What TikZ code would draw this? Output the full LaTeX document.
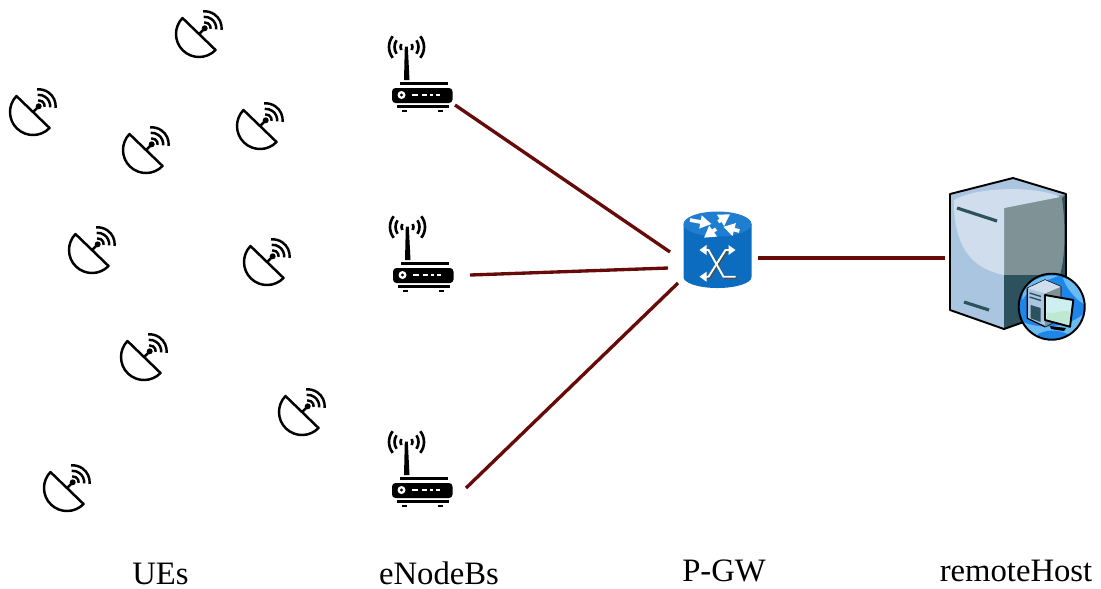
\documentclass[tikz,border=0pt]{standalone}
\usepackage{xcolor}
\usepackage{fontspec}
\setmainfont{Liberation Serif}
\usetikzlibrary{arrows.meta}

\definecolor{linkred}{HTML}{660A0A}
\definecolor{pgwblue}{HTML}{0C6CBF}
\definecolor{pgwtop}{HTML}{1F7ED0}
\definecolor{srvlight}{HTML}{CFDDED}
\definecolor{srvmid}{HTML}{A9C5DF}
\definecolor{srvgrey}{HTML}{7F9397}
\definecolor{srvdark}{HTML}{2D525E}
\definecolor{globeblue}{HTML}{1E86E8}
\definecolor{globepale}{HTML}{6CBAF2}
\definecolor{screenpale}{HTML}{CDEFF0}

\tikzset{
	% invisible boxes the icons sit in
	ue/.style={minimum width=.5cm, minimum height=.5cm, inner sep=0pt},
	enb/.style={minimum width=.66cm, minimum height=.78cm, inner sep=0pt},
	gw/.style={minimum width=.7cm, minimum height=.8cm, inner sep=0pt},
	host/.style={minimum width=1.2cm, minimum height=1.5cm, inner sep=0pt},
	tier/.style={font=\fontsize{9.3}{11}\selectfont, inner sep=0pt, anchor=base},
	link/.style={draw=linkred, line width=.95pt},
	pgwarrow/.style={white, line width=1.05pt, -{Triangle[length=3.2pt,width=3.6pt]}},
	dish/.pic={
		\draw[line width=.7pt, line join=round] (136:.23) arc[start angle=136, end angle=316, radius=.23] -- cycle;
		\draw[line width=.7pt] (0,0) -- (.057,.057);
		\fill (.057,.057) circle (.03);
		\foreach \r in {.06,.115,.17}
			\draw[line width=.7pt, shift={(.057,.057)}] (-5:\r) arc[start angle=-5, end angle=95, radius=\r];
	},
	router/.pic={
		\fill[rounded corners=1pt] (-.3,-.13) rectangle (.305,-.28);
		\fill (-.22,-.07) rectangle (.26,-.095);
		\fill (-.25,-.30) rectangle (.27,-.325);
		\fill (-.2,-.35) rectangle (-.15,-.37);
		\fill (.16,-.35) rectangle (.21,-.37);
		\fill (-.172,.285) -- (-.142,.285) -- (-.125,-.05) -- (-.18,-.05) -- cycle;
		\foreach \r/\a in {.06/30,.12/34,.175/38} {
			\draw[line width=.75pt] (-.155,.28) ++(180-\a:\r) arc[start angle=180-\a, end angle=180+\a, radius=\r];
			\draw[line width=.75pt] (-.155,.28) ++(-\a:\r) arc[start angle=-\a, end angle=\a, radius=\r];
		}
		\fill[white] (-.205,-.2) circle (.04);
		\fill (-.205,-.2) circle (.017);
		\foreach \xa/\xb in {-.10/-.04,-.003/.047,.08/.113,.14/.18}
			\fill[white] (\xa,-.19) rectangle (\xb,-.21);
	},
	pgw/.pic={
		\fill[pgwblue] (-.34,.28) -- (-.34,-.25) arc[start angle=180, end angle=360, x radius=.34, y radius=.11] -- (.34,.28) -- cycle;
		\fill[pgwtop] (0,.28) ellipse (.34 and .125);
		\draw[pgwarrow] (-.275,.32) -- (-.06,.28);
		\draw[pgwarrow] (.008,.303) -- (.125,.377);
		\draw[pgwarrow] (.218,.21) -- (.058,.253);
		\draw[pgwarrow] (-.015,.23) -- (-.135,.143);
		% crossing arrows with their dark edge
		\draw[black!70, line width=.55pt, shift={(.012,-.012)}] (-.12,.02) -- (-.09,.02) -- (.06,-.247) -- (.18,-.247);
		\draw[black!70, line width=.55pt, shift={(.012,-.012)}] (.12,.02) -- (.08,.02) -- (-.09,-.247) -- (-.12,-.247);
		\draw[white, line width=.55pt] (-.12,.02) -- (-.09,.02) -- (.06,-.247) -- (.18,-.247);
		\draw[white, line width=.55pt] (.12,.02) -- (.08,.02) -- (-.09,-.247) -- (-.12,-.247);
		\foreach \x/\y/\d in {-.18/.02/1,.18/.02/-1,-.18/-.247/1}
			\fill[white] (\x,\y) -- ++(\d*.07,.05) -- ++(0,-.1) -- cycle;
	},
	server/.pic={
		\fill[srvmid] (-.58,.64) -- (.05,.80) -- (.58,.64) -- (.58,-.49) -- (-.04,-.71) -- (-.58,-.52) -- cycle;
		\fill[srvgrey] (-.04,.50) -- (.58,.64) -- (.58,-.49) -- (-.04,-.71) -- cycle;
		\fill[srvdark] (-.04,-.17) -- (.58,-.17) -- (.58,-.49) -- (-.04,-.71) -- cycle;
		\fill[srvdark] (.58,.64) -- (.54,.60) .. controls (.58,.3) and (.57,0) .. (.52,-.17) -- (.58,-.17) -- cycle;
		\fill[srvlight] (-.54,.58) .. controls (-.3,.72) and (.3,.72) .. (.52,.61) -- (-.04,.50) -- (-.04,-.17) .. controls (-.3,-.12) and (-.55,.05) .. (-.54,.58) -- cycle;
		\draw[black, line width=.55pt, line join=round] (-.58,.64) -- (.05,.80) -- (.58,.64) -- (.58,-.49) -- (-.04,-.71) -- (-.58,-.52) -- cycle;
		\draw[srvdark, line width=.9pt] (-.51,.50) -- (-.11,.37);
		\draw[srvdark, line width=.9pt] (-.44,-.44) -- (-.19,-.52);
		% small globe with computer
		\fill[globeblue] (.437,-.487) circle (.33);
		\begin{scope}
			\clip (.437,-.487) circle (.33);
			\fill[globepale] (.10,-.62) .. controls (.3,-.72) and (.6,-.72) .. (.80,-.52) -- (.80,-.85) -- (.10,-.85) -- cycle;
			\fill[globeblue] (.30,-.76) .. controls (.42,-.70) and (.55,-.72) .. (.66,-.80) -- (.55,-.85) -- (.3,-.85) -- cycle;
			\fill[globepale] (.55,-.20) .. controls (.70,-.22) and (.75,-.35) .. (.76,-.46) .. controls (.68,-.42) and (.58,-.30) .. cycle;
			\fill[globepale] (.16,-.30) .. controls (.25,-.20) and (.4,-.16) .. (.5,-.18) .. controls (.4,-.22) and (.25,-.26) .. (.14,-.42) -- cycle;
		\end{scope}
		\draw[black, line width=.55pt] (.437,-.487) circle (.33);
		\filldraw[fill=srvmid, draw=black, line width=.35pt, line join=round] (.193,-.303) -- (.37,-.22) -- (.527,-.287) -- (.527,-.603) -- (.37,-.687) -- (.193,-.603) -- cycle;
		\fill[srvgrey] (.37,-.353) -- (.527,-.287) -- (.527,-.603) -- (.37,-.687) -- cycle;
		\fill[srvlight] (.193,-.303) -- (.37,-.22) -- (.527,-.287) -- (.37,-.353) -- cycle;
		\fill[srvdark] (.227,-.47) -- (.327,-.50) -- (.327,-.64) -- (.227,-.603) -- cycle;
		\draw[srvdark, line width=.4pt] (.215,-.35) -- (.33,-.385);
		\draw[srvdark, line width=.4pt] (.215,-.39) -- (.33,-.425);
		\fill[black] (.42,-.68) -- (.58,-.70) -- (.56,-.73) -- (.43,-.71) -- cycle;
		\filldraw[fill=screenpale, draw=black, line width=.55pt, line join=round] (.37,-.37) -- (.653,-.42) -- (.62,-.687) -- (.37,-.62) -- cycle;
		\fill[cyan!30!green!25!white] (.39,-.54) .. controls (.46,-.58) and (.54,-.50) .. (.62,-.54) -- (.60,-.665) -- (.39,-.61) -- cycle;
	}
}

\begin{document}
\begin{tikzpicture}
	\useasboundingbox (0,0) rectangle (11.01,-5.88);
	% user equipment
	\foreach \i/\x/\y in {
		1/1.99/-.34,
		2/.33/-1.12,
		3/1.46/-1.50,
		4/2.60/-1.26,
		5/.92/-2.50,
		6/2.67/-2.62,
		7/1.44/-3.57,
		8/3.02/-4.12,
		9/.67/-4.88
	}
	{
		\node[ue] (ue\i) at (\x,\y) {};
		\pic at (ue\i.center) {dish};
	}
	% base stations
	\foreach \i/\x/\y in {
		1/4.22/-.75,
		2/4.23/-2.55,
		3/4.22/-4.70
	}
	{
		\node[enb] (enb\i) at (\x,\y) {};
		\pic at (enb\i.center) {router};
	}
	\node[gw] (gw) at (7.175,-2.52) {};
	\pic at (gw.center) {pgw};
	\node[host] (remote) at (10.08,-2.58) {};
	\pic at (remote.center) {server};
	% links
	\draw[link] ([shift={(.33,-.30)}]enb1.center) -- ([shift={(-.475,0)}]gw.center);
	\draw[link] ([shift={(.47,-.20)}]enb2.center) -- ([shift={(-.495,-.16)}]gw.center);
	\draw[link] ([shift={(.44,-.18)}]enb3.center) -- ([shift={(-.395,-.31)}]gw.center);
	\draw[link] ([shift={(.405,-.06)}]gw.center) -- ([shift={(-.63,0)}]remote.center);
	% tier labels
	\node[tier] (lblue) at (1.605,-5.84) {UEs};
	\node[tier] (lblenb) at (4.39,-5.84) {eNodeBs};
	\node[tier] (lblgw) at (7.24,-5.815) {P-GW};
	\node[tier] (lblhost) at (10.16,-5.815) {remoteHost};
\end{tikzpicture}
\end{document}
